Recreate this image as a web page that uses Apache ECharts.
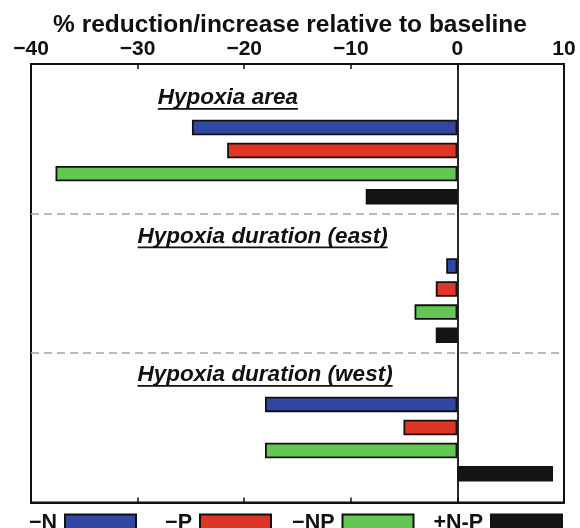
<!DOCTYPE html>
<html><head><meta charset="utf-8">
<script src="https://cdn.jsdelivr.net/npm/echarts@6/dist/echarts.min.js"></script>
<style>html,body{margin:0;padding:0;background:#fff}#c{width:580px;height:528px}</style>
</head><body><div id="c"></div>
<script>
// ---- data ----
const groupTitles = ['Hypoxia area', 'Hypoxia duration (east)', 'Hypoxia duration (west)'];
const titleX = [-28.1, -30.0, -30.0];
const seriesNames = ['\u2212N', '\u2212P', '\u2212NP', '+N-P'];
const valuesN = [-24.9, -1.05, -18.05];
const valuesP = [-21.6, -2.03, -5.06];
const valuesNP = [-37.7, -4.02, -18.05];
const valuesPlusNminusP = [-8.6, -2.03, 8.97];
const xTicks = [-40, -30, -20, -10, 0, 10];
const colors = ['#3047A3', '#E03427', '#62C852', '#141414'];

// half-row slots along the vertical axis
const SLOTS = 38;
const rows = Array.from({length: SLOTS}, (_, i) => String(i));
function rowOf(g, s) { return 12 * g + 2 * s + 5; }
function titleRow(g) { return 12 * g + 2; }
const separatorRows = [13, 25];

const allValues = [valuesN, valuesP, valuesNP, valuesPlusNminusP];
function buildData(s) {
  const arr = new Array(SLOTS).fill('-');
  allValues[s].forEach((v, g) => { arr[rowOf(g, s)] = v; });
  return arr;
}

const font = '"Liberation Sans", Arial, Helvetica, sans-serif';
const chart = echarts.init(document.getElementById('c'), null, {renderer: 'canvas'});
const axisLineStyle = {color: '#111', width: 2};
// right edges of legend boxes (px from right of canvas)
const legendRight = [443, 308, 165.5, 17];
const option = {
  animation: false,
  backgroundColor: '#fff',
  title: {
    text: '% reduction/increase relative to baseline',
    left: 'center', top: 8,
    textStyle: {fontFamily: font, fontSize: 24.5, fontWeight: 'bold', color: '#111'}
  },
  grid: {left: 31, right: 16, top: 64, bottom: 25.5, show: true, borderColor: '#111', borderWidth: 2},
  xAxis: [{
    type: 'value', position: 'top', min: xTicks[0], max: xTicks[xTicks.length - 1], interval: 10,
    axisLine: {show: true, onZero: false, lineStyle: axisLineStyle},
    axisTick: {show: true, inside: true, length: 5, lineStyle: {color: '#111', width: 1.5}},
    axisLabel: {formatter: v => String(v).replace('-', '\u2212'), fontFamily: font, fontSize: 21,
      fontWeight: 'bold', color: '#111', margin: 4},
    splitLine: {show: false}
  }, {
    type: 'value', position: 'bottom', min: xTicks[0], max: xTicks[xTicks.length - 1], interval: 10,
    axisLine: {show: true, onZero: false, lineStyle: axisLineStyle},
    axisTick: {show: true, inside: true, length: 5, lineStyle: {color: '#111', width: 1.5}},
    axisLabel: {show: false},
    splitLine: {show: false}
  }],
  yAxis: {
    type: 'category', data: rows, inverse: true,
    axisLine: {show: true, onZero: true, onZeroAxisIndex: 0, lineStyle: {color: '#111', width: 1.8}},
    axisTick: {show: false}, axisLabel: {show: false},
    splitLine: {show: true, interval: (i) => separatorRows.includes(i),
      lineStyle: {color: '#a5a5a5', width: 1.6, type: [8, 5]}}
  },
  legend: seriesNames.map((name, s) => ({
    data: [name], right: legendRight[s], top: 512.5, align: 'right', icon: 'rect', padding: 0,
    itemWidth: 71, itemHeight: 18, itemGap: 0, selectedMode: false,
    textStyle: {fontFamily: font, fontSize: 21.5, fontWeight: 'bold', color: '#111', padding: [0, 3, 0, 0]}
  })),
  series: seriesNames.map((name, s) => ({
    name, type: 'bar', xAxisIndex: 0, yAxisIndex: 0, barWidth: 15.5, barGap: '-100%',
    data: buildData(s),
    itemStyle: {color: colors[s], borderColor: '#111', borderWidth: 1.8}
  }))
};
chart.setOption(option);

const ctx = document.createElement('canvas').getContext('2d');
ctx.font = 'italic bold 22.5px "Liberation Sans"';
const graphics = [];
groupTitles.forEach((t, g) => {
  const p = chart.convertToPixel({xAxisIndex: 0, yAxisIndex: 0}, [titleX[g], rows[titleRow(g)]]);
  const w = ctx.measureText(t).width;
  graphics.push({type: 'text', x: p[0], y: p[1] + 5, z: 10,
    style: {text: t, fontStyle: 'italic', fontWeight: 'bold', fontSize: 22.5, fontFamily: font,
      fill: '#111', textAlign: 'left', textVerticalAlign: 'middle'}});
  graphics.push({type: 'line', z: 10, shape: {x1: p[0], y1: p[1] + 16, x2: p[0] + w, y2: p[1] + 16},
    style: {stroke: '#111', lineWidth: 1.8}});
});
chart.setOption({graphic: graphics});
</script>
</body></html>
